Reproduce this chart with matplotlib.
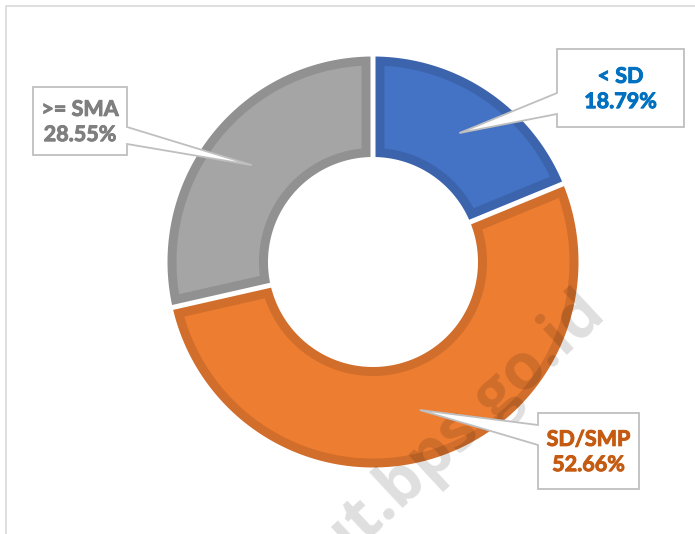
import numpy as np
import matplotlib
matplotlib.use("Agg")
import matplotlib.pyplot as plt
import matplotlib.patheffects as pe
from matplotlib.patches import Polygon, Rectangle
from matplotlib import colors as mcolors

# data
categories = ["< SD", "SD/SMP", ">= SMA"]
shares = [18.79, 52.66, 28.55]
fills = ["#4472C4", "#ED7D31", "#A5A5A5"]
label_colors = ["#0070C0", "#C55A11", "#7F7F7F"]

W, H = 695, 534
CX, CY = 373, 262          # donut centre (pixels, y down)
R_OUT, R_IN = 205.5, 105
GAP = 5.0                  # white gap between slices
BORDER = 9.0               # darker rim inside each slice

# callout boxes (x0, y0, x1, y1) in pixels y-down, side where pointer leaves, pointer base
boxes = [
    ((557, 49, 684, 127), "left", (93, 114)),
    ((538, 413, 639, 489), "left", (425, 445)),
    ((33, 87, 127, 155), "right", (127, 144)),
]


def px(x, y):
    return (x - CX, CY - y)


def ring_poly(a, b, r_in, r_out, d, n=120):
    """slice between angles a<b (radians), edges pulled in by d"""
    ao, bo = a + np.arcsin(d / r_out), b - np.arcsin(d / r_out)
    ai, bi = a + np.arcsin(d / r_in), b - np.arcsin(d / r_in)
    t_out = np.linspace(ao, bo, n)
    t_in = np.linspace(bi, ai, n)
    xs = np.concatenate([r_out * np.cos(t_out), r_in * np.cos(t_in)])
    ys = np.concatenate([r_out * np.sin(t_out), r_in * np.sin(t_in)])
    return np.column_stack([xs, ys])


def darker(c, f=0.88):
    r, g, b = mcolors.to_rgb(c)
    return (r * f, g * f, b * f)


fig = plt.figure(figsize=(W / 100, H / 100), dpi=100)
ax = fig.add_axes([0, 0, 1, 1])
ax.set_xlim(-CX, W - CX)
ax.set_ylim(-(H - CY), CY)
ax.axis("off")

# outer frame of the chart area
fig.patches.append(Rectangle((5.5, -20), W + 20, H - 5.5 + 20, transform=None,
                             fill=False, edgecolor="#D9D9D9", linewidth=1.2))

# slices start at 12 o'clock and go clockwise
total = sum(shares)
start = 90.0
mids = []
for val, col in zip(shares, fills):
    sweep = val / total * 360.0
    a = np.radians(start - sweep)
    b = np.radians(start)
    ax.add_patch(Polygon(ring_poly(a, b, R_IN, R_OUT, GAP / 2), closed=True,
                         facecolor=darker(col), edgecolor="none", zorder=2))
    ax.add_patch(Polygon(ring_poly(a, b, R_IN + BORDER, R_OUT - BORDER, GAP / 2 + BORDER),
                         closed=True, facecolor=col, edgecolor="none", zorder=3))
    mids.append((a + b) / 2)
    start -= sweep

# watermark
ax.text(*px(598, 308), "jakut.bps.go.id", rotation=43, rotation_mode="anchor",
        ha="right", va="center", fontsize=46, fontweight="bold",
        family="Open Sans", color="black", alpha=0.13, zorder=4)

# callouts
r_tip = (R_IN + R_OUT) / 2
for (box, side, base), cat, val, tcol, m in zip(boxes, categories, shares, label_colors, mids):
    x0, y0, x1, y1 = box
    tip = (r_tip * np.cos(m), r_tip * np.sin(m))
    if side == "left":
        pts = [px(x0, y0), px(x1, y0), px(x1, y1), px(x0, y1),
               px(x0, base[1]), tip, px(x0, base[0])]
    else:
        pts = [px(x0, y0), px(x1, y0), px(x1, base[0]), tip,
               px(x1, base[1]), px(x1, y1), px(x0, y1)]
    ax.add_patch(Polygon(pts, closed=True, facecolor="white", edgecolor="#BFBFBF",
                         linewidth=1.3, joinstyle="miter", zorder=5))
    ax.text(*px((x0 + x1) / 2, (y0 + y1) / 2 + 1), f"{cat}\n{val:.2f}%",
            ha="center", va="center", fontsize=15.5, fontweight="bold",
            family="Lato", color=tcol, linespacing=1.25, zorder=6,
            path_effects=[pe.withStroke(linewidth=0.7, foreground=tcol)])

fig.savefig("out.png", dpi=100)
